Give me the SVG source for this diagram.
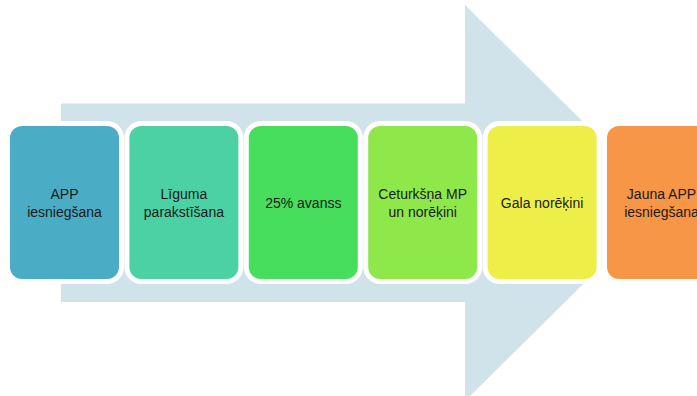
<svg xmlns="http://www.w3.org/2000/svg" width="697" height="396" viewBox="0 0 697 396">
<style>
.halo{fill:#ffffff}
.box{stroke:none}
.lbl{font-family:"Liberation Sans",Arial,sans-serif;font-size:14px;fill:#1a1a1a;text-anchor:middle}
</style>
<rect width="697" height="396" fill="#ffffff"/>
<g id="arrow">
<polygon points="61,103.5 465,103.5 465,5 665,203 465,401 465,302 61,302" fill="#D0E3EA"/>
</g>
<g id="connectors"></g>
<g id="n1">
<rect class="halo" x="5" y="121" width="119" height="163" rx="17"/>
<rect class="box" x="10" y="126" width="109" height="153" rx="12" fill="#4BACC6"/>
<text class="lbl" x="64.5" y="199">APP</text>
<text class="lbl" x="64.5" y="217">iesniegšana</text>
</g>
<g id="n2">
<rect class="halo" x="124.4" y="121" width="119" height="163" rx="17"/>
<rect class="box" x="129.4" y="126" width="109" height="153" rx="12" fill="#4BD1A4"/>
<text class="lbl" x="183.9" y="199">Līguma</text>
<text class="lbl" x="183.9" y="217">parakstīšana</text>
</g>
<g id="n3">
<rect class="halo" x="243.8" y="121" width="119" height="163" rx="17"/>
<rect class="box" x="248.8" y="126" width="109" height="153" rx="12" fill="#47DD5D"/>
<text class="lbl" x="303.3" y="208">25% avanss</text>
</g>
<g id="n4">
<rect class="halo" x="363.2" y="121" width="119" height="163" rx="17"/>
<rect class="box" x="368.2" y="126" width="109" height="153" rx="12" fill="#8EE84A"/>
<text class="lbl" x="422.7" y="199">Ceturkšņa MP</text>
<text class="lbl" x="422.7" y="217">un norēķini</text>
</g>
<g id="n5">
<rect class="halo" x="482.6" y="121" width="119" height="163" rx="17"/>
<rect class="box" x="487.6" y="126" width="109" height="153" rx="12" fill="#EEEE48"/>
<text class="lbl" x="542.1" y="208">Gala norēķini</text>
</g>
<g id="n6">
<rect class="halo" x="602" y="121" width="119" height="163" rx="17"/>
<rect class="box" x="607" y="126" width="109" height="153" rx="12" fill="#F79646"/>
<text class="lbl" x="661.5" y="199">Jauna APP</text>
<text class="lbl" x="661.5" y="217">iesniegšana</text>
</g>
</svg>
